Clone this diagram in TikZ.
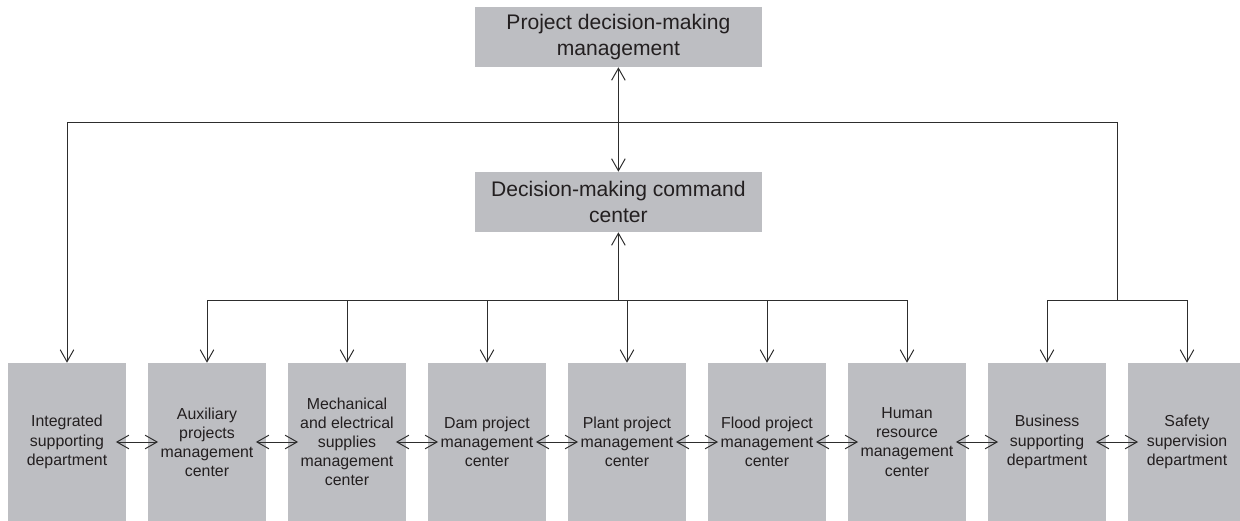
\documentclass[tikz,border=0pt]{standalone}
\usepackage{fontspec}
\setmainfont{Liberation Sans}
\usepackage{xcolor}
\usetikzlibrary{arrows.meta,positioning}
\definecolor{boxgray}{RGB}{189,190,194}
\definecolor{linegray}{RGB}{45,45,45}
\definecolor{textgray}{RGB}{35,31,32}

\begin{document}
\begin{tikzpicture}[node distance=3.5cm,
  head/.style={rectangle, fill=boxgray, text=textgray, minimum width=7.175cm, minimum height=1.5cm, align=center, inner sep=0pt, font=\fontsize{15}{18}\selectfont},
  dept/.style={rectangle, fill=boxgray, text=textgray, minimum width=2.95cm, minimum height=3.95cm, align=center, inner sep=0pt, font=\fontsize{11.3}{13.6}\selectfont},
  link/.style={draw=linegray, line width=0.7pt},
  arr/.style={link, -{Straight Barb[length=3mm,width=3.4mm]}},
  both/.style={link, {Straight Barb[length=3mm,width=3.4mm]}-{Straight Barb[length=3mm,width=3.4mm]}}]
        \useasboundingbox (0,0) rectangle (31,-13.025);
        \node[head] (pdm) at (15.46,-0.925) {Project decision-making\\management};
        \node[head] (dmc) at (15.46,-5.05) {Decision-making command\\center};
        \node[dept] (1) at (1.675,-11.05) {Integrated\\supporting\\department};
        \node[dept] (2) [right of=1] {Auxiliary\\projects\\management\\center};
        \node[dept] (3) [right of=2] {Mechanical\\and electrical\\supplies\\management\\center};
        \node[dept] (4) [right of=3] {Dam project\\management\\center};
        \node[dept] (5) [right of=4] {Plant project\\management\\center};
        \node[dept] (6) [right of=5] {Flood project\\management\\center};
        \node[dept] (7) [right of=6] {Human\\resource\\management\\center};
        \node[dept] (8) [right of=7] {Business\\supporting\\department};
        \node[dept] (9) [right of=8] {Safety\\supervision\\department};
        \coordinate (hub) at (27.925,-3.05);
        \coordinate (fork) at (27.925,-7.5);
        \coordinate (low) at (0,-7.5);
        % upper level
        \draw[both] (pdm) -- (dmc);
        \draw[arr] (hub) -| (1);
        \draw[link] (hub) -- (fork);
        \draw[arr] (fork) -| (8);
        \draw[arr] (fork) -| (9);
        % command center to the centers
        \draw[arr] (dmc |- low) -- (dmc);
        \draw[link] (2 |- low) -- (7 |- low);
        \foreach \n in {2,...,7}
            \draw[arr] (\n |- low) -- (\n);
        % side by side
        \foreach \a/\b in {1/2,2/3,3/4,4/5,5/6,6/7,7/8,8/9}
            \draw[both, shorten <=-2.6mm, shorten >=-2.6mm] (\a) -- (\b);
    \end{tikzpicture}
\end{document}
